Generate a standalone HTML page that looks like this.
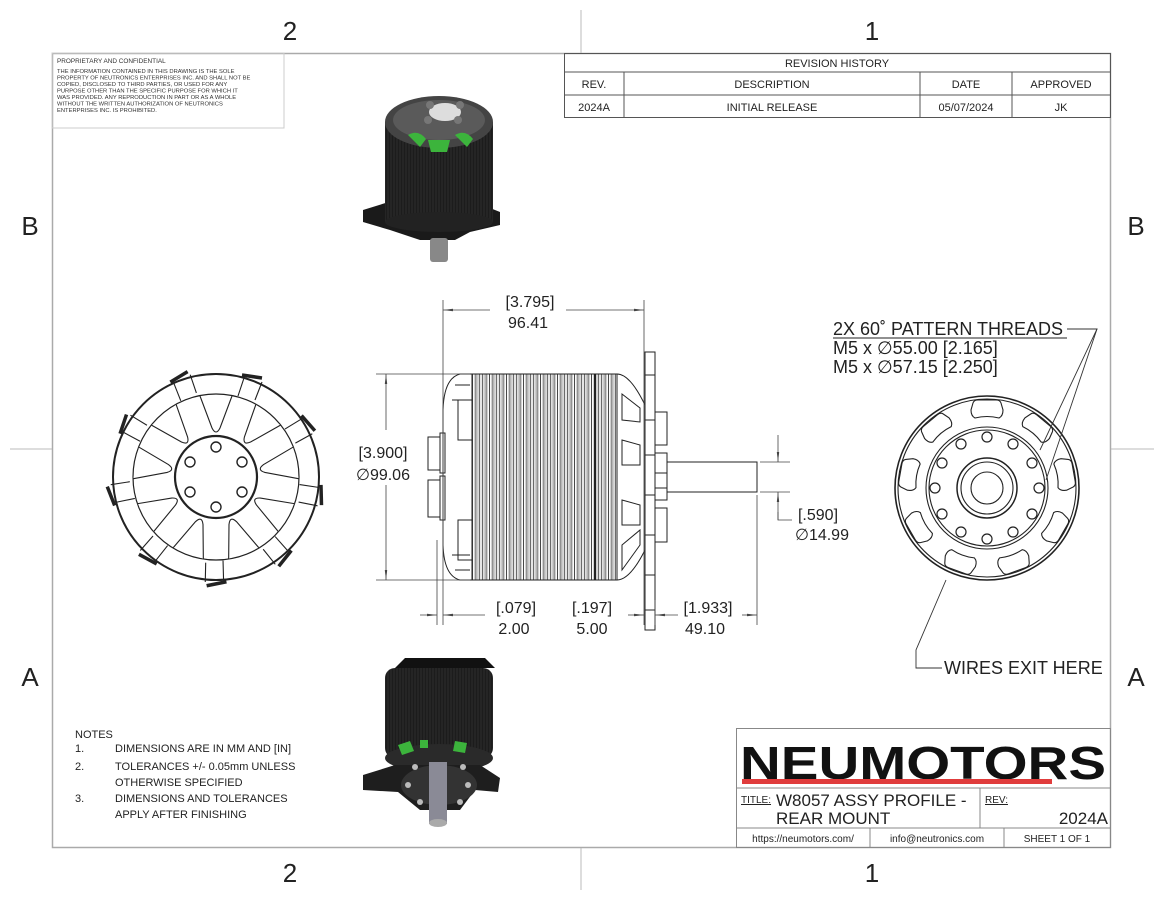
<!DOCTYPE html>
<html><head><meta charset="utf-8"><style>
html,body{margin:0;padding:0;background:#fff;}
svg{display:block;font-family:"Liberation Sans",sans-serif;}
</style></head><body>
<svg width="1164" height="900" viewBox="0 0 1164 900" xmlns="http://www.w3.org/2000/svg">
<defs>
<pattern id="fins" x="472" y="0" width="3.4" height="10" patternUnits="userSpaceOnUse">
<rect width="3.4" height="10" fill="#fff"/><line x1="0.5" y1="0" x2="0.5" y2="10" stroke="#333" stroke-width="0.9"/><line x1="2.2" y1="0" x2="2.2" y2="10" stroke="#999" stroke-width="0.5"/>
</pattern>
<pattern id="dk" width="3" height="3" patternUnits="userSpaceOnUse"><rect width="3" height="3" fill="#1c1c1c"/><line x1="1" y1="0" x2="1" y2="3" stroke="#3a3a3a" stroke-width="0.6"/></pattern>
<marker id="ar" viewBox="0 0 10 4" refX="10" refY="2" markerWidth="10" markerHeight="4" orient="auto-start-reverse" markerUnits="userSpaceOnUse"><path d="M0,0.8 L10,2 L0,3.2z" fill="#444"/></marker>
</defs>
<!-- frame -->
<rect x="52.5" y="53.5" width="1058" height="794" fill="none" stroke="#aaa" stroke-width="1.5"/>
<g stroke="#bbb" stroke-width="1"><line x1="581" y1="10" x2="581" y2="53"/><line x1="581" y1="848" x2="581" y2="890"/><line x1="10" y1="449" x2="52" y2="449"/><line x1="1111" y1="449" x2="1154" y2="449"/></g>
<g font-size="26" fill="#222" text-anchor="middle">
<text x="290" y="40">2</text><text x="872" y="40">1</text><text x="290" y="882">2</text><text x="872" y="882">1</text>
<text x="30" y="235">B</text><text x="1136" y="235">B</text><text x="30" y="686">A</text><text x="1136" y="686">A</text>
</g>
<!-- proprietary -->
<rect x="52" y="53" width="232" height="75" fill="none" stroke="#ccc"/>
<g font-size="5.8" fill="#333"><text x="57" y="63" font-size="6.4">PROPRIETARY AND CONFIDENTIAL</text>
<text x="57" y="73">THE INFORMATION CONTAINED IN THIS DRAWING IS THE SOLE</text>
<text x="57" y="79.5">PROPERTY OF NEUTRONICS ENTERPRISES INC. AND SHALL NOT BE</text>
<text x="57" y="86">COPIED, DISCLOSED TO THIRD PARTIES, OR USED FOR ANY</text>
<text x="57" y="92.5">PURPOSE OTHER THAN THE SPECIFIC PURPOSE FOR WHICH IT</text>
<text x="57" y="99">WAS PROVIDED. ANY  REPRODUCTION IN PART OR AS A WHOLE</text>
<text x="57" y="105.5">WITHOUT THE WRITTEN AUTHORIZATION OF NEUTRONICS</text>
<text x="57" y="112">ENTERPRISES INC. IS  PROHIBITED.</text></g>
<!-- revision table -->
<g stroke="#555" stroke-width="1" fill="none"><rect x="564.5" y="53.5" width="546" height="64"/><line x1="564" y1="72" x2="1111" y2="72"/><line x1="564" y1="95" x2="1111" y2="95"/>
<line x1="624" y1="72" x2="624" y2="118"/><line x1="920" y1="72" x2="920" y2="118"/><line x1="1012" y1="72" x2="1012" y2="118"/></g>
<g font-size="11" fill="#222" text-anchor="middle"><text x="837" y="67">REVISION HISTORY</text>
<text x="594" y="88">REV.</text><text x="772" y="88">DESCRIPTION</text><text x="966" y="88">DATE</text><text x="1061" y="88">APPROVED</text>
<text x="594" y="111">2024A</text><text x="772" y="111">INITIAL RELEASE</text><text x="966" y="111">05/07/2024</text><text x="1061" y="111">JK</text></g>
<!-- top iso -->
<g>
<path d="M363,210 L395,200 L470,200 L500,212 L500,225 L470,232 L455,240 L420,240 L390,230 L363,222z" fill="#1a1a1a"/>
<rect x="430" y="238" width="18" height="24" rx="3" fill="#888"/>
<rect x="385" y="122" width="108" height="100" fill="url(#dk)"/>
<ellipse cx="439" cy="222" rx="54" ry="10" fill="#222"/>
<ellipse cx="439" cy="122" rx="54" ry="26" fill="#444"/>
<ellipse cx="439" cy="120" rx="46" ry="20" fill="#5a5a5a"/>
<ellipse cx="445" cy="112" rx="16" ry="9" fill="#ddd"/>
<g fill="#777"><circle cx="430" cy="105" r="4"/><circle cx="460" cy="105" r="4"/><circle cx="428" cy="120" r="4"/><circle cx="458" cy="120" r="4"/></g>
<path d="M408,135 q10,-6 18,4 l-6,8z M428,140 l22,0 l-3,12 l-16,0z M455,135 q10,-6 18,4 l-6,8z" fill="#3cb43c"/>
</g>
<!-- bottom iso -->
<g>
<rect x="385" y="668" width="108" height="90" rx="10" fill="url(#dk)"/>
<path d="M395,668 l10,-10 l80,0 l10,10z" fill="#111"/>
<ellipse cx="439" cy="758" rx="54" ry="14" fill="#2a2a2a"/>
<path d="M363,775 L395,765 L480,765 L500,778 L498,792 L475,790 L460,810 L420,810 L398,792 L363,790z" fill="#1e1e1e"/>
<ellipse cx="439" cy="785" rx="38" ry="20" fill="#333"/>
<g fill="#bbb"><circle cx="415" cy="767" r="3"/><circle cx="463" cy="767" r="3"/><circle cx="408" cy="785" r="3"/><circle cx="468" cy="785" r="3"/><circle cx="420" cy="802" r="3"/><circle cx="460" cy="802" r="3"/></g>
<path d="M398,745 l12,-4 l4,10 l-12,4z M455,741 l12,2 l-2,10 l-12,-2z M420,740 l8,0 l0,8 l-8,0z" fill="#3cb43c"/>
<rect x="429" y="762" width="18" height="62" fill="#8a8a96"/>
<ellipse cx="438" cy="823" rx="9" ry="4" fill="#aaa"/>
</g>
<!-- left front view -->
<g fill="none" stroke="#222" stroke-width="1.2">
<circle cx="216" cy="477" r="103" stroke-width="2"/>
<circle cx="216" cy="477" r="83"/>
<circle cx="216" cy="477" r="41" stroke-width="2.2" fill="#fff"/>
<g stroke-width="1.4"><circle cx="216" cy="447" r="5"/><circle cx="242" cy="462" r="5"/><circle cx="242" cy="492" r="5"/><circle cx="216" cy="507" r="5"/><circle cx="190" cy="492" r="5"/><circle cx="190" cy="462" r="5"/></g>
<g id="sp" stroke-width="1.1">
<path d="M200,396 L212,428 Q216,436 220,428 L232,396" fill="#fff"/>
<path d="M244,378 L238,396 M262,382 L255,400" />
<path d="M242,375 L262,378" stroke-width="3.5"/>
</g>
<use href="#sp" transform="rotate(40 216 477)"/><use href="#sp" transform="rotate(80 216 477)"/><use href="#sp" transform="rotate(120 216 477)"/><use href="#sp" transform="rotate(160 216 477)"/><use href="#sp" transform="rotate(200 216 477)"/><use href="#sp" transform="rotate(240 216 477)"/><use href="#sp" transform="rotate(280 216 477)"/><use href="#sp" transform="rotate(320 216 477)"/>
</g>
<!-- side view -->
<g stroke="#222" stroke-width="1" fill="none">
<path d="M472,374 L460,374 Q444,378 443,410 L443,545 Q444,576 460,580 L472,580" fill="#fff"/>
<path d="M455,385 L470,385 M455,570 L470,570 M452,400 L470,400 M452,555 L470,555"/>
<rect x="458" y="400" width="14" height="40"/><rect x="458" y="520" width="14" height="40"/>
<rect x="428" y="437" width="12" height="33" fill="#fff"/><rect x="428" y="480" width="12" height="37" fill="#fff"/>
<rect x="440" y="433" width="5" height="40"/><rect x="440" y="476" width="5" height="44"/>
<rect x="472" y="374" width="145" height="206" fill="url(#fins)"/>
<line x1="595" y1="374" x2="595" y2="580" stroke-width="2"/>
<path d="M617,374 Q630,374 645,405 L645,550 Q630,580 617,580"/>
<path d="M622,394 L640,408 L640,422 L622,420z M622,440 L640,445 L640,465 L622,465z M622,500 L640,505 L640,525 L622,525z M622,545 L640,530 L640,545 L622,570z"/>
<rect x="645" y="352" width="10" height="278" fill="#fff"/>
<path d="M645,375 h10 M645,420 h10 M645,455 h10 M645,495 h10 M645,535 h10 M645,575 h10 M645,610 h10"/>
<rect x="655" y="412" width="12" height="33" fill="#fff"/><rect x="655" y="453" width="12" height="20" fill="#fff"/><rect x="655" y="488" width="12" height="12" fill="#fff"/><rect x="655" y="508" width="12" height="34" fill="#fff"/>
<rect x="667" y="462" width="90" height="30" fill="#fff"/>
</g>
<!-- dimensions -->
<g stroke="#444" stroke-width="0.8" fill="none">
<line x1="443" y1="300" x2="443" y2="625"/><line x1="644" y1="300" x2="644" y2="625"/>
<line x1="443" y1="310" x2="490" y2="310" marker-start="url(#ar)"/><line x1="566" y1="310" x2="644" y2="310" marker-end="url(#ar)"/>
<line x1="376" y1="374" x2="470" y2="374"/><line x1="376" y1="580" x2="470" y2="580"/>
<line x1="386" y1="374" x2="386" y2="430" marker-start="url(#ar)"/><line x1="386" y1="485" x2="386" y2="580" marker-end="url(#ar)"/>
<line x1="437" y1="540" x2="437" y2="625"/><line x1="655" y1="600" x2="655" y2="625"/><line x1="757" y1="495" x2="757" y2="625"/>
<line x1="420" y1="615" x2="437" y2="615" marker-end="url(#ar)"/><line x1="443" y1="615" x2="485" y2="615" marker-start="url(#ar)"/>
<line x1="628" y1="615" x2="644" y2="615" marker-end="url(#ar)"/>
<line x1="655" y1="615" x2="678" y2="615" marker-start="url(#ar)"/><line x1="742" y1="615" x2="757" y2="615" marker-end="url(#ar)"/>
<line x1="760" y1="462" x2="790" y2="462"/><line x1="760" y1="492" x2="790" y2="492"/>
<line x1="778" y1="435" x2="778" y2="462" marker-end="url(#ar)"/><line x1="778" y1="520" x2="778" y2="492" marker-end="url(#ar)"/>
<polyline points="778,520 778,512 778,520 792,520" />
</g>
<g font-size="16" fill="#222" text-anchor="middle">
<text x="530" y="307">[3.795]</text><text x="528" y="328">96.41</text>
<text x="383" y="458">[3.900]</text><text x="383" y="480">∅99.06</text>
<text x="516" y="613">[.079]</text><text x="514" y="634">2.00</text>
<text x="592" y="613">[.197]</text><text x="592" y="634">5.00</text>
<text x="708" y="613">[1.933]</text><text x="705" y="634">49.10</text>
<text x="818" y="520">[.590]</text><text x="822" y="540">∅14.99</text>
</g>
<!-- right rear view -->
<g fill="none" stroke="#222" stroke-width="1.1">
<circle cx="987" cy="488" r="92" stroke-width="1.6"/><circle cx="987" cy="488" r="89"/>
<circle cx="987" cy="488" r="61"/><circle cx="987" cy="488" r="58"/>
<circle cx="987" cy="488" r="30" stroke-width="1.5"/><circle cx="987" cy="488" r="26"/><circle cx="987" cy="488" r="16"/>
<g stroke-width="1.2"><circle cx="987" cy="437" r="5"/><circle cx="1013" cy="444" r="5"/><circle cx="1032" cy="463" r="5"/><circle cx="1039" cy="488" r="5"/><circle cx="1032" cy="514" r="5"/><circle cx="1013" cy="532" r="5"/><circle cx="987" cy="539" r="5"/><circle cx="961" cy="532" r="5"/><circle cx="942" cy="514" r="5"/><circle cx="935" cy="488" r="5"/><circle cx="942" cy="463" r="5"/><circle cx="961" cy="444" r="5"/></g>
<path id="sl" d="M975,418 Q971,416 971,410 L973,403 Q974,400 978,400 L996,400 Q1000,400 1001,403 L1003,410 Q1003,416 999,418 Q987,415 975,418z"/>
<use href="#sl" transform="rotate(40 987 488)"/><use href="#sl" transform="rotate(80 987 488)"/><use href="#sl" transform="rotate(120 987 488)"/><use href="#sl" transform="rotate(160 987 488)"/><use href="#sl" transform="rotate(200 987 488)"/><use href="#sl" transform="rotate(240 987 488)"/><use href="#sl" transform="rotate(280 987 488)"/><use href="#sl" transform="rotate(320 987 488)"/>
</g>
<g stroke="#333" stroke-width="0.9" fill="none">
<polyline points="1067,329 1097,329 1040,450"/><line x1="1097" y1="329" x2="1046" y2="480"/>
<polyline points="942,668 916,668 916,650 946,580"/>
</g>
<g font-size="18" fill="#222">
<text x="833" y="335">2X 60˚ PATTERN THREADS</text>
<line x1="833" y1="338" x2="1067" y2="338" stroke="#222" stroke-width="1"/>
<text x="833" y="354">M5 x ∅55.00 [2.165]</text>
<text x="833" y="373">M5 x ∅57.15 [2.250]</text>
<text x="944" y="674">WIRES EXIT HERE</text>
</g>
<!-- notes -->
<g font-size="11" fill="#222">
<text x="75" y="738">NOTES</text>
<text x="75" y="752">1.</text><text x="115" y="752">DIMENSIONS ARE IN MM AND [IN]</text>
<text x="75" y="770">2.</text><text x="115" y="770">TOLERANCES +/- 0.05mm UNLESS</text>
<text x="115" y="786">OTHERWISE SPECIFIED</text>
<text x="75" y="802">3.</text><text x="115" y="802">DIMENSIONS AND TOLERANCES</text>
<text x="115" y="818">APPLY AFTER FINISHING</text>
</g>
<!-- title block -->
<g stroke="#888" stroke-width="1" fill="none">
<rect x="736.5" y="728.5" width="374" height="119"/>
<line x1="736" y1="788" x2="1111" y2="788"/><line x1="736" y1="828" x2="1111" y2="828"/>
<line x1="980" y1="788" x2="980" y2="828"/><line x1="870" y1="828" x2="870" y2="848"/><line x1="1004" y1="828" x2="1004" y2="848"/>
</g>
<text x="740" y="779" font-size="46" font-weight="bold" fill="#111" textLength="366" lengthAdjust="spacingAndGlyphs" font-family="Liberation Sans, sans-serif">NEUMOTORS</text>
<rect x="742" y="779" width="310" height="5" fill="#e03c3c"/>
<g fill="#222">
<text x="741" y="803" font-size="10" text-decoration="underline">TITLE:</text>
<text x="776" y="806" font-size="17">W8057 ASSY PROFILE -</text>
<text x="776" y="824" font-size="17">REAR MOUNT</text>
<text x="985" y="803" font-size="10" text-decoration="underline">REV:</text>
<text x="1108" y="824" font-size="17" text-anchor="end">2024A</text>
<text x="803" y="842" font-size="10" text-anchor="middle">https://neumotors.com/</text>
<text x="937" y="842" font-size="10" text-anchor="middle">info@neutronics.com</text>
<text x="1057" y="842" font-size="10" text-anchor="middle">SHEET 1 OF 1</text>
</g>
</svg>
</body></html>
